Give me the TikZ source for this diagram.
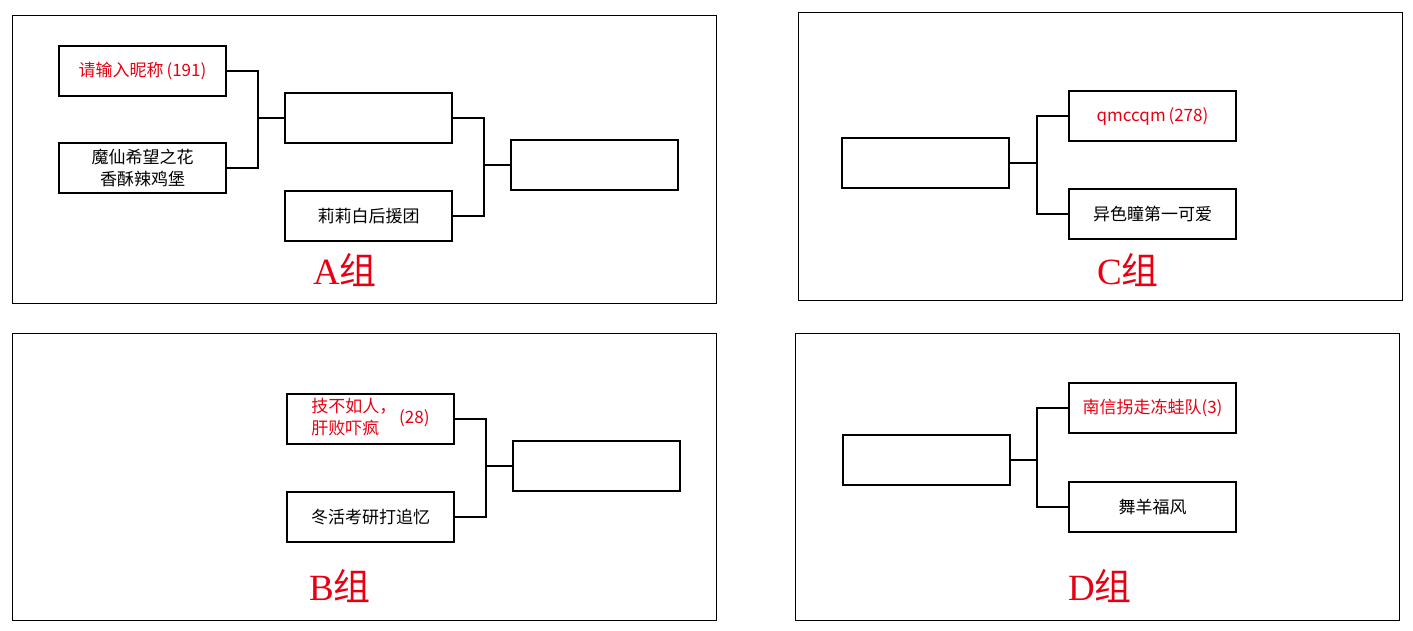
\documentclass[tikz,border=0pt]{standalone}
\usepackage{fontspec}
\setmainfont{Liberation Serif}
\newfontfamily\cjk{Noto Sans CJK SC}
\definecolor{tred}{RGB}{230,0,18}
\usetikzlibrary{calc}
\begin{document}
\begin{tikzpicture}[x=1pt,y=-1pt,
  panel/.style={draw=black,line width=1pt},
  box/.style={draw=black,line width=1.4pt,minimum width=167pt,minimum height=50pt,inner sep=0pt,
    font=\cjk\fontsize{17}{22}\selectfont,align=center},
  win/.style={box,text=tred},
  conn/.style={draw=black,line width=1.2pt},
  grp/.style={text=tred,font=\fontsize{37}{40}\selectfont,inner sep=0pt}
]
\useasboundingbox (0,0) rectangle (1413,631);
% panels
\draw[panel] (12,16) rectangle (716,303);
\draw[panel] (798,13) rectangle (1402,300);
\draw[panel] (12,333) rectangle (716,620);
\draw[panel] (795,333) rectangle (1399,620);

% ---- A ----
\node[win] (a1) at (142.5,71) {请输入昵称\,(191)};
\node[box] (a2) at (142.5,168) {魔仙希望之花\\香酥辣鸡堡};
\node[box] (a3) at (368.5,118) {};
\node[box] (a4) at (368.5,216) {莉莉白后援团};
\node[box] (a5) at (594.5,165) {};
\coordinate (ja) at (258,0);
\coordinate (jb) at (484,0);
\draw[conn] (a1.east) -- (a1.east -| ja) -- (a2.east -| ja) -- (a2.east);
\draw[conn] (a3.west) -- (a3.west -| ja);
\draw[conn] (a3.east) -- (a3.east -| jb) -- (a4.east -| jb) -- (a4.east);
\draw[conn] (a5.west) -- (a5.west -| jb);
\node[grp] (la) at (345,270) {A{\cjk 组}};

% ---- C ----
\node[box] (c1) at (925.5,163) {};
\node[win] (c2) at (1152.5,116) {qmccqm\,(278)};
\node[box] (c3) at (1152.5,214) {异色瞳第一可爱};
\coordinate (jc) at (1037,0);
\draw[conn] (c2.west) -- (c2.west -| jc) -- (c3.west -| jc) -- (c3.west);
\draw[conn] (c1.east) -- (c1.east -| jc);
\node[grp] (lc) at (1128,270) {C{\cjk 组}};

% ---- B ----
\node[win] (b1) at (370.5,419) {\begin{tabular}{@{}l@{}}技不如人，\\肝败吓疯\end{tabular}\,(28)};
\node[box] (b2) at (370.5,517) {冬活考研打追忆};
\node[box] (b3) at (596.5,466) {};
\coordinate (jd) at (486,0);
\draw[conn] (b1.east) -- (b1.east -| jd) -- (b2.east -| jd) -- (b2.east);
\draw[conn] (b3.west) -- (b3.west -| jd);
\node[grp] (lb) at (340,586) {B{\cjk 组}};

% ---- D ----
\node[box] (d1) at (926.5,460) {};
\node[win] (d2) at (1152.5,408) {南信拐走冻蛙队(3)};
\node[box] (d3) at (1152.5,507) {舞羊福风};
\coordinate (je) at (1037,0);
\draw[conn] (d2.west) -- (d2.west -| je) -- (d3.west -| je) -- (d3.west);
\draw[conn] (d1.east) -- (d1.east -| je);
\node[grp] (ld) at (1100,586) {D{\cjk 组}};
\end{tikzpicture}
\end{document}
